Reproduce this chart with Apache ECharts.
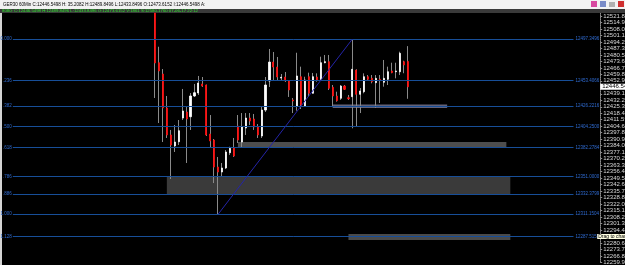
<!DOCTYPE html>
<html>
<head>
<meta charset="utf-8">
<script src="https://cdn.jsdelivr.net/npm/echarts@6/dist/echarts.min.js"></script>
<style>
  html, body { margin: 0; padding: 0; background: #000; }
  #chart { width: 625px; height: 265px; }
</style>
</head>
<body>
<div id="chart"></div>
<script>
// GER30 H1 bars, oldest first
const opens = [12525.0, 12472.2, 12460.2, 12424.1, 12395.4, 12383.7, 12388.2, 12413.4, 12419.8, 12414.8,
  12436.8, 12440.0, 12449.6, 12448.5, 12396.4, 12390.0, 12361.3, 12356.0, 12360.3, 12376.5,
  12381.5, 12404.9, 12387.9, 12402.8, 12413.4, 12412.4, 12403.9, 12394.3, 12421.9, 12452.8,
  12472.9, 12467.6, 12455.9, 12457.0, 12452.8, 12432.6, 12426.2, 12457.3, 12426.2, 12457.3,
  12439.7, 12457.0, 12454.6, 12472.2, 12473.3, 12446.1, 12436.8, 12434.4, 12447.4, 12435.0,
  12436.1, 12464.4, 12438.6, 12441.4, 12457.3, 12455.6, 12451.0, 12454.6, 12451.4, 12454.6,
  12463.4, 12462.6, 12462.6, 12473.3, 12473.6152]
const closes = [12471.9, 12463.4, 12424.1, 12395.4, 12384.7, 12387.9, 12399.9, 12420.9, 12412.4, 12436.8,
  12440.3, 12450.6, 12447.4, 12395.4, 12389.0, 12361.3, 12356.0, 12360.3, 12377.3, 12381.2,
  12373.0, 12390.0, 12403.9, 12413.4, 12410.2, 12403.9, 12395.4, 12421.9, 12448.5, 12472.9,
  12467.6, 12457.0, 12456.7, 12452.8, 12443.2, 12431.5, 12458.1, 12427.2, 12453.8, 12439.7,
  12457.3, 12453.8, 12472.2, 12473.3, 12445.0, 12436.8, 12431.8, 12447.4, 12443.9, 12433.9,
  12465.2, 12438.6, 12442.1, 12457.3, 12454.6, 12452.0, 12455.6, 12453.1, 12455.6, 12462.6,
  12461.6, 12463.4, 12482.2, 12469.8, 12446.5498]
const lows = [12434.7, 12408.1, 12387.9, 12392.2, 12348.6, 12377.3, 12384.7, 12411.3, 12365.6, 12400.7,
  12435.8, 12437.9, 12446.4, 12394.3, 12382.6, 12344.3, 12311.2, 12350.7, 12359.2, 12374.1,
  12372.0, 12386.9, 12382.6, 12395.4, 12406.0, 12400.7, 12392.2, 12392.2, 12419.8, 12446.4,
  12453.8, 12452.8, 12452.8, 12451.7, 12435.8, 12418.7, 12421.2, 12423.0, 12425.1, 12436.1,
  12439.5, 12452.0, 12453.1, 12471.6, 12443.2, 12425.4, 12430.8, 12432.6, 12443.2, 12432.6,
  12402.5, 12404.2, 12418.7, 12439.7, 12453.8, 12450.3, 12424.1, 12429.4, 12446.7, 12448.5,
  12461.0, 12455.6, 12459.1, 12461.0, 12433.8496]
const highs = [12525.0, 12489.2, 12465.5, 12436.8, 12400.7, 12406.0, 12411.3, 12444.3, 12425.1, 12440.0,
  12449.6, 12458.1, 12457.0, 12449.0, 12416.6, 12391.1, 12372.0, 12365.6, 12379.4, 12382.9,
  12392.2, 12416.6, 12418.7, 12418.7, 12418.7, 12417.7, 12407.0, 12425.1, 12457.0, 12486.8,
  12483.6, 12478.3, 12460.2, 12462.3, 12453.8, 12434.7, 12482.8, 12468.0, 12457.3, 12461.6,
  12461.3, 12460.9, 12478.6, 12480.4, 12480.4, 12448.5, 12441.4, 12448.5, 12448.5, 12437.9,
  12497.3, 12465.2, 12445.3, 12460.9, 12459.1, 12459.1, 12459.1, 12459.1, 12475.1, 12468.0,
  12472.2, 12472.2, 12483.9, 12474.3, 12489.8496]

const leadSlots = 38      // empty bar slots left of the first bar
const totalSlots = 150

// fibonacci levels
const fibNames = ['0.000', '.236', '.382', '.500', '.618', '.786', '.886', '1.000', '1.128']
const fibPrices = [12497.3496, 12453.4066, 12426.2216, 12404.2500, 12382.2784, 12351.0000, 12332.3799, 12311.1504, 12287.5159]
const fibFrom = 2, fibTo = 144   // slot range of the level lines

// trend line: bar index / price
const trendBars = [16, 50]
const trendPrices = [12311.1504, 12497.3496]

// rectangles: bar index from/to, price top/bottom
const zoneFrom = [45, 21, 3, 49]
const zoneTo = [74, 89, 90, 90]
const zoneTop = [12427.8, 12387.9, 12351.0, 12290.1]
const zoneBottom = [12424.1, 12382.6, 12332.4, 12283.7]

const lastPrice = 12446.5498
const dragPrice = 12287.5

const headerText = 'GER30 60Min C:12446.5498 H: 35.2082 H:12489.8496 L:12433.8496 O:12473.6152 I:12446.5498 A:'
const infoText = '8080: C:12446.5498 H:12489.8496 L:12433.8496 O:12473.6152 V:1861 S:12580.1760 07-06-17 22:12'

const slots = []
for (let i = 0; i < totalSlots; i++) slots.push(String(i))

const wickData = opens.map((o, i) => [leadSlots + i, o, closes[i], lows[i], highs[i]])
const bodyData = opens.map((o, i) => [leadSlots + i, o, closes[i], Math.min(o, closes[i]), Math.max(o, closes[i])])

const zoneColors = ['#62627a', '#4e4e4e', '#3a3a3a', '#4a4a4a']
const zones = zoneFrom.map((f, k) => [
  { coord: [String(leadSlots + f), zoneTop[k]], itemStyle: { color: zoneColors[k] } },
  { coord: [String(leadSlots + zoneTo[k]), zoneBottom[k]] }
])

const hidden = { color: 'rgba(0,0,0,0)' }
const fibLines = []
fibPrices.forEach((p, k) => {
  fibLines.push([
    { coord: [String(fibFrom), p], label: { position: 'end', formatter: p.toFixed(4) } },
    { coord: [String(fibTo), p] }
  ])
  fibLines.push([
    { coord: [String(fibFrom), p], lineStyle: hidden, label: { position: 'start', formatter: fibNames[k], distance: 1 } },
    { coord: [String(fibTo), p] }
  ])
})

const chart = echarts.init(document.getElementById('chart'))
const font = 'Liberation Sans'

chart.setOption({
  backgroundColor: '#000',
  animation: false,
  grid: { left: 3, right: 29.8, top: 13, height: 249.36, outerBoundsMode: 'none' },
  xAxis: {
    type: 'category',
    data: slots,
    boundaryGap: true,
    axisLine: { show: false },
    axisTick: { show: false },
    axisLabel: { show: false },
    splitLine: { show: false }
  },
  yAxis: {
    type: 'value',
    position: 'right',
    min: 12259.9756,
    max: 12525.0454,
    interval: 6.8916,
    offset: 5,
    axisLine: { show: true, lineStyle: { color: '#8c8c8c', type: 'dotted' } },
    axisTick: { show: true, length: 2, lineStyle: { color: '#8c8c8c' } },
    splitLine: { show: false },
    axisLabel: {
      color: '#d8d8d8', fontSize: 6, fontFamily: font, margin: 3,
      showMaxLabel: false,
      formatter: v => v.toFixed(4)
    }
  },
  graphic: [
    { type: 'rect', shape: { x: 0, y: 0, width: 625, height: 9 }, style: { fill: '#f2f2f2' }, silent: true },
    { type: 'rect', shape: { x: 0, y: 9, width: 625, height: 4 }, style: { fill: '#3a3a3a' }, silent: true },
    { type: 'text', x: 3, y: 4.5, style: { text: headerText, fill: '#000', fontSize: 4.5, fontFamily: font, verticalAlign: 'middle' }, silent: true },
    { type: 'text', x: 2, y: 11, style: { text: infoText, fill: '#2ee62e', fontSize: 4.3, fontFamily: font, verticalAlign: 'middle' }, silent: true },
    { type: 'rect', shape: { x: 591, y: 1, width: 6, height: 6 }, style: { fill: '#d84aa0' }, silent: true },
    { type: 'rect', shape: { x: 600, y: 1, width: 6, height: 6 }, style: { fill: '#7a8cc8' }, silent: true },
    { type: 'rect', shape: { x: 609, y: 2, width: 6, height: 5 }, style: { fill: '#b0b0b0' }, silent: true },
    { type: 'rect', shape: { x: 618, y: 1, width: 6, height: 6 }, style: { fill: '#d03030' }, silent: true },
    { type: 'rect', shape: { x: 0, y: 13, width: 2, height: 252 }, style: { fill: '#d4d4d4' }, silent: true }
  ],
  series: [
    {
      name: 'zones',
      type: 'line',
      data: [],
      z: 1,
      clip: false,
      markArea: { silent: true, data: zones }
    },
    {
      name: 'fib',
      type: 'line',
      data: [],
      z: 2,
      clip: false,
      markLine: {
        silent: true,
        symbol: ['none', 'none'],
        animation: false,
        lineStyle: { color: '#174e98', width: 1, type: 'solid' },
        label: { show: true, color: '#2f6bd2', fontSize: 4.5, fontFamily: font, distance: 2 },
        data: fibLines.concat([
          [
            { coord: [String(leadSlots + trendBars[0]), trendPrices[0]], lineStyle: { color: '#2424a8', width: 1 }, label: { show: false } },
            { coord: [String(leadSlots + trendBars[1]), trendPrices[1]] }
          ]
        ])
      }
    },
    {
      name: 'price',
      type: 'line',
      data: [],
      z: 6,
      clip: false,
      markLine: {
        silent: true,
        symbol: ['none', 'none'],
        animation: false,
        lineStyle: hidden,
        data: [
          { yAxis: lastPrice, label: { show: true, position: 'end', distance: 5, formatter: lastPrice.toFixed(4), color: '#000', backgroundColor: '#ffffff', fontSize: 6, fontFamily: font, padding: [0, 2, 0, 2] } },
          { yAxis: dragPrice, label: { show: true, position: 'end', distance: 2, formatter: 'Drag to change', color: '#000', backgroundColor: '#ffffe1', fontSize: 5, fontFamily: font, padding: [0, 1, 0, 1] } }
        ]
      }
    },
    {
      name: 'wicks',
      type: 'candlestick',
      data: wickData,
      encode: { x: 0, y: [1, 2, 3, 4] },
      z: 3,
      barWidth: 0.5,
      itemStyle: { color: '#8a8a8a', color0: '#8a8a8a', borderColor: '#8a8a8a', borderColor0: '#8a8a8a', borderWidth: 1 }
    },
    {
      name: 'bodies',
      type: 'candlestick',
      data: bodyData,
      encode: { x: 0, y: [1, 2, 3, 4] },
      z: 4,
      barWidth: 1.6,
      itemStyle: { color: '#ffffff', color0: '#ff1010', borderColor: '#ffffff', borderColor0: '#ff1010', borderWidth: 0.8 }
    }
  ]
})
</script>
</body>
</html>
